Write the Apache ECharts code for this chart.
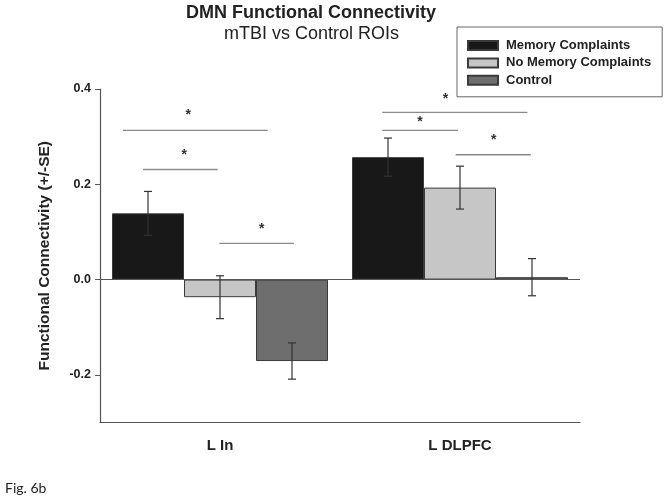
<!DOCTYPE html>
<html><head><meta charset="utf-8">
<script src="https://cdn.jsdelivr.net/npm/echarts@6/dist/echarts.min.js"></script>
<style>html,body{margin:0;padding:0;background:#fff}#c{width:667px;height:499px}</style>
</head><body><div id="c"></div>
<script>
const categories = ['L In', 'L DLPFC'];
const seriesNames = ['Memory Complaints', 'No Memory Complaints', 'Control'];
const memoryComplaints = [0.139, 0.257];
const noMemoryComplaints = [-0.037, 0.193];
const control = [-0.171, 0.005];
const memoryComplaintsSE = [0.046, 0.040];
const noMemoryComplaintsSE = [0.045, 0.045];
const controlSE = [0.038, 0.039];
const yTickValues = [-0.2, 0, 0.2, 0.4];
// significance brackets, x in category units (0..2 across the plot), y in data units
const sigLineStart = [0.096, 0.18, 0.498, 1.176, 1.176, 1.482];
const sigLineEnd = [0.699, 0.49, 0.808, 1.781, 1.492, 1.795];
const sigLineY = [0.313, 0.231, 0.076, 0.351, 0.313, 0.262];
const starX = [0.368, 0.351, 0.674, 1.439, 1.333, 1.640];
const starY = [0.352, 0.268, 0.113, 0.385, 0.337, 0.298];

const FONT = 'Liberation Sans, Arial, sans-serif';
const colors = ['#181818', '#c6c6c6', '#6e6e6e'];
const values = [memoryComplaints, noMemoryComplaints, control];
const ses = [memoryComplaintsSE, noMemoryComplaintsSE, controlSE];

function errRenderer(k) {
  return function (params, api) {
    const ci = api.value(0), v = api.value(1), se = api.value(2);
    const band = api.size([1, 0])[0];
    const bw = band * 0.9 / 3;
    const cx = api.coord([ci, 0])[0] + (k - 1) * bw;
    const yHi = api.coord([ci, v + se])[1];
    const yLo = api.coord([ci, v - se])[1];
    const cap = 4;
    const style = { stroke: '#333', lineWidth: 1.2 };
    return { type: 'group', children: [
      { type: 'line', shape: { x1: cx, y1: yHi, x2: cx, y2: yLo }, style },
      { type: 'line', shape: { x1: cx - cap, y1: yHi, x2: cx + cap, y2: yHi }, style },
      { type: 'line', shape: { x1: cx - cap, y1: yLo, x2: cx + cap, y2: yLo }, style }
    ] };
  };
}

const series = [];
seriesNames.forEach((name, k) => {
  const s = {
    name, type: 'bar', data: values[k], barGap: '0%', barCategoryGap: '10%',
    itemStyle: { color: colors[k], borderColor: '#3a3a3a', borderWidth: 1 },
    emphasis: { disabled: true }, z: 2
  };
  if (k === 0) {
    s.markLine = { silent: true, symbol: 'none', label: { show: false },
      lineStyle: { color: '#555', type: 'solid', width: 1.2 }, data: [{ yAxis: 0 }] };
  }
  series.push(s);
});
seriesNames.forEach((name, k) => {
  series.push({
    type: 'custom', renderItem: errRenderer(k), z: 5, silent: true,
    data: categories.map((c, i) => [i, values[k][i], ses[k][i]])
  });
});
series.push({
  type: 'custom', xAxisIndex: 1, yAxisIndex: 0, silent: true, z: 6,
  data: sigLineStart.map((s, i) => [s, sigLineEnd[i], sigLineY[i]]),
  renderItem: function (params, api) {
    const p1 = api.coord([api.value(0), api.value(2)]);
    const p2 = api.coord([api.value(1), api.value(2)]);
    return { type: 'line', shape: { x1: p1[0], y1: p1[1], x2: p2[0], y2: p2[1] },
      style: { stroke: '#8a8a8a', lineWidth: 1.3 } };
  }
});
series.push({
  type: 'custom', xAxisIndex: 1, yAxisIndex: 0, silent: true, z: 6,
  data: starX.map((x, i) => [x, starY[i]]),
  renderItem: function (params, api) {
    const p = api.coord([api.value(0), api.value(1)]);
    return { type: 'text', x: p[0], y: p[1] + 3,
      style: { text: '*', fill: '#333', font: 'bold 14px ' + FONT, textAlign: 'center', textVerticalAlign: 'middle' } };
  }
});

const chart = echarts.init(document.getElementById('c'), null, { renderer: 'canvas' });
chart.setOption({
  animation: false,
  backgroundColor: '#fff',
  grid: { left: 100, right: 87, top: 89, bottom: 76.5, containLabel: false },
  legend: {
    orient: 'vertical', left: 457, top: 27, itemWidth: 30, itemHeight: 9, itemGap: 4.4,
    padding: [12, 11, 10, 10], borderColor: '#666', borderWidth: 1, icon: 'rect',
    data: seriesNames, selectedMode: false,
    textStyle: { fontFamily: FONT, fontWeight: 'bold', fontSize: 13, color: '#222', padding: [0, 0, 0, 3] }
  },
  xAxis: [{
    type: 'category', data: categories,
    axisLine: { onZero: false, lineStyle: { color: '#555', width: 1.2 } },
    axisTick: { alignWithLabel: true, length: 5, lineStyle: { color: '#555' } },
    axisLabel: { margin: 16, fontFamily: FONT, fontWeight: 'bold', fontSize: 15, color: '#222' },
    splitLine: { show: false }
  }, {
    type: 'value', min: 0, max: 2, show: false
  }],
  yAxis: {
    type: 'value', min: -0.3, max: 0.4, interval: 0.1,
    name: 'Functional Connectivity (+/-SE)', nameLocation: 'middle', nameGap: 47,
    nameTextStyle: { fontFamily: FONT, fontWeight: 'bold', fontSize: 15.5, color: '#222' },
    axisLine: { show: true, lineStyle: { color: '#555', width: 1.2 } },
    axisTick: { show: true, length: 5, customValues: yTickValues, lineStyle: { color: '#555' } },
    axisLabel: { customValues: yTickValues, margin: 9, formatter: v => v.toFixed(1),
      fontFamily: FONT, fontWeight: 'bold', fontSize: 12.5, color: '#222' },
    splitLine: { show: false }
  },
  graphic: [
    { type: 'text', left: 313 - 127, top: 4, style: { text: 'DMN Functional Connectivity', font: 'bold 18px ' + FONT, fill: '#222' } },
    { type: 'text', left: 313 - 89, top: 25, style: { text: 'mTBI vs Control ROIs', font: '18px ' + FONT, fill: '#222' } },
    { type: 'text', left: 5, top: 481, style: { text: 'Fig. 6b', font: '14px Lato, sans-serif', fill: '#222' } }
  ],
  series
});
</script></body></html>
